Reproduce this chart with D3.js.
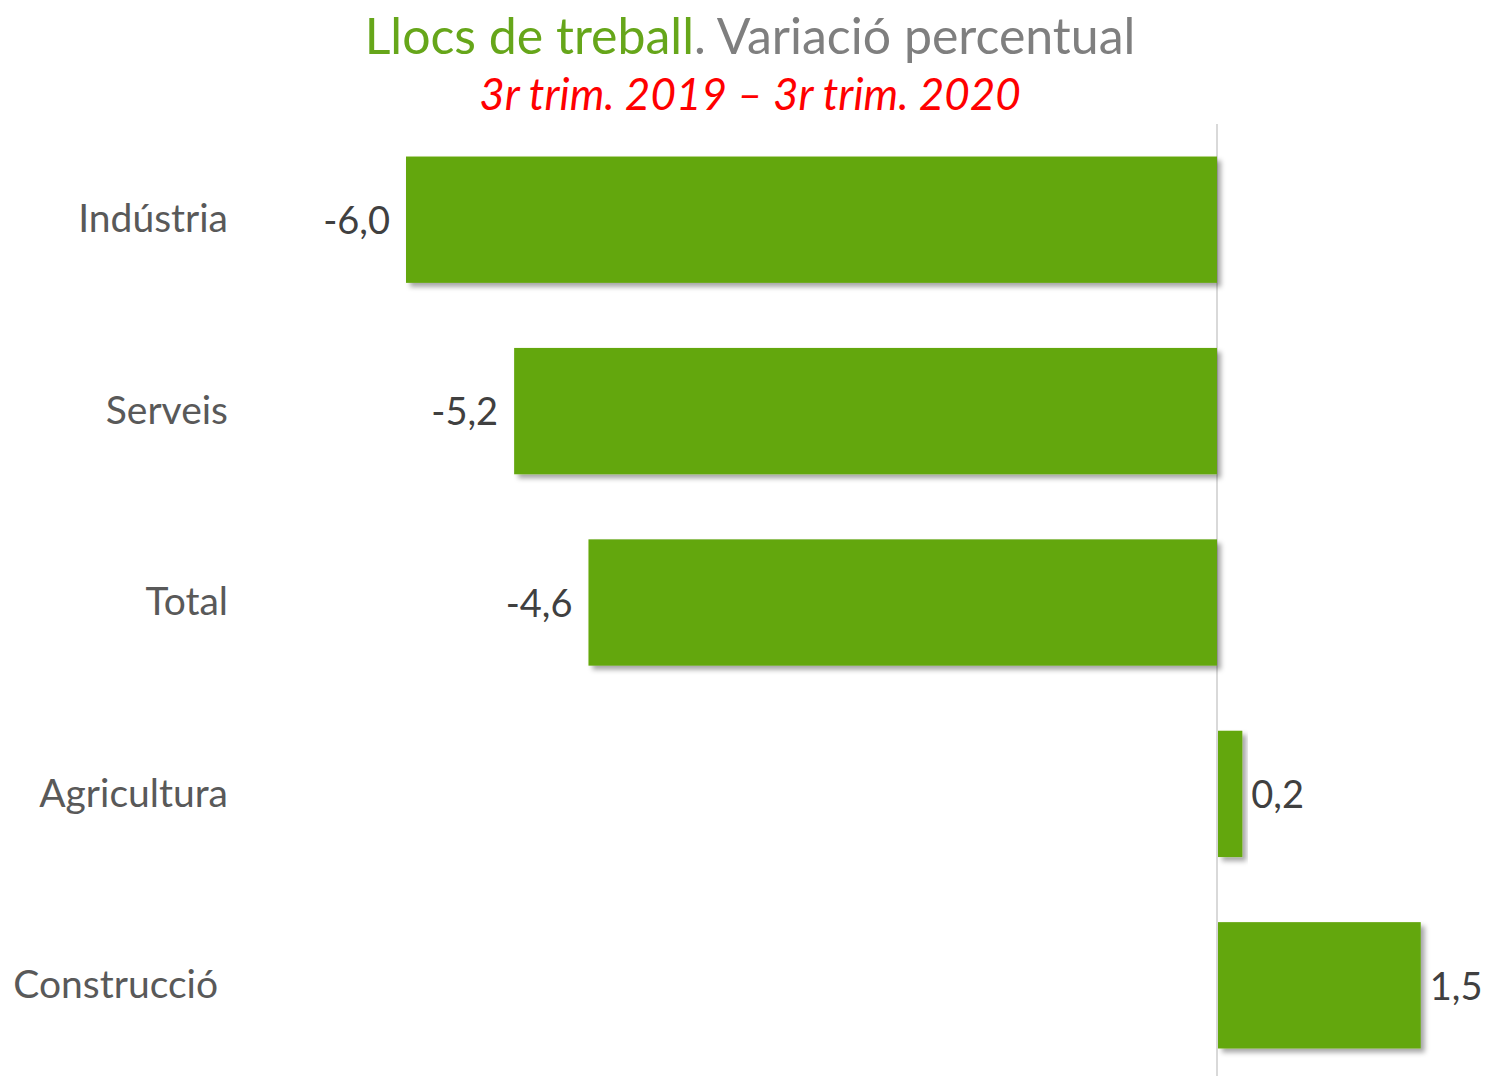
<!DOCTYPE html>
<meta charset="utf-8">
<style>
	body { margin:0; background:#fff; }
	svg { display:block; font-family: Lato, "Open Sans", sans-serif; }
</style>
<script src="https://d3js.org/d3.v7.min.js"></script>
<body>
<div id="chart"></div>
<script>
	var categories = ["Indústria", "Serveis", "Total", "Agricultura", "Construcció"];
	var values = [-6.0, -5.2, -4.65, 0.18, 1.5];
	var valueLabels = ["-6,0", "-5,2", "-4,6", "0,2", "1,5"];

	var width = 1486, height = 1076;
	var svg = d3.select("#chart").append("svg")
		.attr("width", width)
		.attr("height", height);

	var defs = svg.append("defs");
	var f = defs.append("filter").attr("id", "shadow")
		.attr("x", "-10%").attr("y", "-10%").attr("width", "130%").attr("height", "130%");
	f.append("feDropShadow")
		.attr("dx", 4).attr("dy", 4).attr("stdDeviation", 2.5)
		.attr("flood-color", "#000").attr("flood-opacity", 0.35);

	var x = d3.scaleLinear()
		.domain([-6, 0])
		.range([406, 1217]);

	var y = d3.scaleBand()
		.domain(categories)
		.range([124, 1081])
		.paddingInner(0.34)
		.paddingOuter(0.17);

	// zero line
	svg.append("line")
		.attr("x1", x(0)).attr("x2", x(0))
		.attr("y1", 124).attr("y2", height)
		.attr("stroke", "#d9d9d9").attr("stroke-width", 2);

	var data = categories.map(function(c, i) { return {cat: c, v: values[i], lab: valueLabels[i]}; });

	svg.selectAll("rect.bar")
		.data(data)
		.enter().append("rect")
		.attr("class", "bar")
		.attr("x", function(d) { return d.v < 0 ? x(d.v) : x(0) + 1; })
		.attr("y", function(d) { return y(d.cat); })
		.attr("width", function(d) { return Math.abs(x(d.v) - x(0)); })
		.attr("height", y.bandwidth())
		.attr("fill", "#64a70b")
		.attr("filter", "url(#shadow)");

	// category labels
	svg.selectAll("text.cat")
		.data(data)
		.enter().append("text")
		.attr("class", "cat")
		.attr("x", function(d) { return d.cat == "Construcció" ? 218 : 228; })
		.attr("y", function(d) { return y(d.cat) + y.bandwidth() / 2 - 1; })
		.attr("dy", "0.35em")
		.attr("text-anchor", "end")
		.attr("fill", "#595959")
		.style("font-size", "39px")
		.text(function(d) { return d.cat; });

	// value labels
	svg.selectAll("text.val")
		.data(data)
		.enter().append("text")
		.attr("class", "val")
		.attr("x", function(d) { return d.v < 0 ? x(d.v) - 16 : x(d.v) + 10; })
		.attr("y", function(d) { return y(d.cat) + y.bandwidth() / 2 + 1; })
		.attr("dy", "0.35em")
		.attr("text-anchor", function(d) { return d.v < 0 ? "end" : "start"; })
		.attr("fill", "#404040")
		.style("font-size", "38px")
		.text(function(d) { return d.lab; });

	// titles
	var t = svg.append("text")
		.attr("x", 750).attr("y", 54)
		.attr("text-anchor", "middle")
		.style("font-size", "50px");
	t.append("tspan").attr("fill", "#66a61a").text("Llocs de treball");
	t.append("tspan").attr("fill", "#7f7f7f").text(". Variació percentual");

	svg.append("text")
		.attr("x", 750).attr("y", 110)
		.attr("text-anchor", "middle")
		.attr("fill", "#ff0000")
		.style("font-size", "44px")
		.style("font-style", "italic")
		.text("3r trim. 2019 – 3r trim. 2020");
</script>
</body>
